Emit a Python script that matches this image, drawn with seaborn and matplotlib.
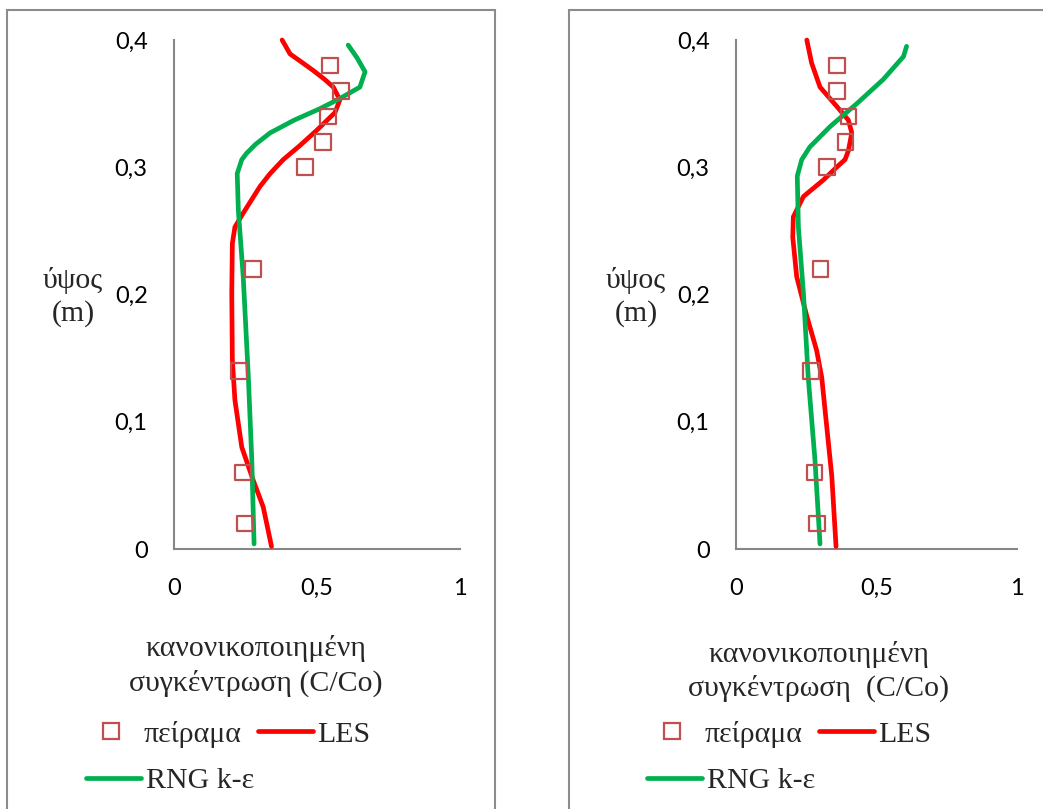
import matplotlib
matplotlib.use("Agg")
import matplotlib.pyplot as plt
import seaborn as sns
import pandas as pd
from matplotlib.lines import Line2D
from matplotlib.patches import Rectangle

# ---------------- data ----------------
exp_y = [0.38, 0.36, 0.34, 0.32, 0.30, 0.22, 0.14, 0.06, 0.02]
left_exp_x = [0.545, 0.584, 0.538, 0.521, 0.458, 0.276, 0.227, 0.241, 0.248]
right_exp_x = [0.36, 0.36, 0.40, 0.39, 0.324, 0.30, 0.267, 0.28, 0.288]

left_les_x = [0.378, 0.406, 0.450, 0.487, 0.527, 0.557, 0.580, 0.563, 0.499, 0.440,
              0.382, 0.336, 0.301, 0.242, 0.213, 0.204, 0.202, 0.204, 0.213, 0.237,
              0.277, 0.312, 0.341]
left_les_y = [0.400, 0.389, 0.382, 0.376, 0.369, 0.363, 0.353, 0.343, 0.329, 0.317,
              0.306, 0.295, 0.285, 0.264, 0.253, 0.240, 0.201, 0.149, 0.117, 0.080,
              0.054, 0.033, 0.002]

left_rng_x = [0.609, 0.640, 0.668, 0.650, 0.580, 0.510, 0.420, 0.336, 0.285, 0.254,
              0.237, 0.221, 0.225, 0.242, 0.260, 0.272, 0.280]
left_rng_y = [0.396, 0.386, 0.375, 0.363, 0.354, 0.346, 0.337, 0.327, 0.318, 0.311,
              0.306, 0.295, 0.266, 0.214, 0.135, 0.070, 0.004]

right_les_x = [0.252, 0.269, 0.299, 0.358, 0.400, 0.412, 0.400, 0.388, 0.358, 0.311,
               0.240, 0.204, 0.202, 0.216, 0.252, 0.287, 0.305, 0.323, 0.341, 0.356]
right_les_y = [0.400, 0.382, 0.363, 0.348, 0.337, 0.327, 0.313, 0.306, 0.300, 0.290,
               0.277, 0.261, 0.245, 0.214, 0.183, 0.156, 0.135, 0.096, 0.057, 0.002]

right_rng_x = [0.607, 0.596, 0.524, 0.430, 0.335, 0.263, 0.234, 0.218, 0.222, 0.240,
               0.257, 0.281, 0.299]
right_rng_y = [0.395, 0.387, 0.369, 0.350, 0.332, 0.316, 0.306, 0.293, 0.253, 0.201,
               0.135, 0.070, 0.004]

x_ticks = [0, 0.5, 1]
x_ticklabels = ["0", "0,5", "1"]
y_ticks = [0, 0.1, 0.2, 0.3, 0.4]
y_ticklabels = ["0", "0,1", "0,2", "0,3", "0,4"]

series_names = ["πείραμα", "LES", "RNG k-ε"]
xlabels = ["κανονικοποιημένη\nσυγκέντρωση (C/Co)", "κανονικοποιημένη\nσυγκέντρωση  (C/Co)"]
ylabel = "ύψος\n(m)"

# ---------------- style ----------------
sns.set_style("white")
plt.rcParams["font.family"] = ["Liberation Serif", "DejaVu Serif"]

W, H = 1043, 809
fig = plt.figure(figsize=(W / 100, H / 100), dpi=100)

def fx(px):
    return px / W

def fy(py):
    return 1 - py / H

RED = "#FF0000"
GREEN = "#00B050"
MARK = "#C0504D"
AXC = "#868686"
FS = 21.5

panels = [
    dict(ax_px=(174, 286), exp_x=left_exp_x, les=(left_les_x, left_les_y),
         rng=(left_rng_x, left_rng_y), box=(7, 495), xlabel=xlabels[0],
         xl_pos=(256, 648, 683), yl_pos=73, leg_off=0),
    dict(ax_px=(736, 281), exp_x=right_exp_x, les=(right_les_x, right_les_y),
         rng=(right_rng_x, right_rng_y), box=(569, 1060), xlabel=xlabels[1],
         xl_pos=(819, 655, 688), yl_pos=636, leg_off=561),
]

for p in panels:
    # outer chart border
    bx0, bx1 = p["box"]
    fig.patches.append(Rectangle((fx(bx0), fy(830)), fx(bx1 - bx0), (830 - 10) / H,
                                 transform=fig.transFigure, fill=False,
                                 edgecolor="#8C8C8C", lw=1.5, zorder=0))
    x0, w = p["ax_px"]
    ax = fig.add_axes([fx(x0), fy(549), fx(w), (549 - 40) / H])
    ax.set_facecolor("none")

    df_exp = pd.DataFrame({"x": p["exp_x"], "y": exp_y})
    df_les = pd.DataFrame({"x": p["les"][0], "y": p["les"][1]})
    df_rng = pd.DataFrame({"x": p["rng"][0], "y": p["rng"][1]})

    sns.lineplot(data=df_les, x="x", y="y", sort=False, estimator=None, ax=ax,
                 color=RED, lw=3.4, solid_capstyle="round", solid_joinstyle="round", zorder=3)
    sns.lineplot(data=df_rng, x="x", y="y", sort=False, estimator=None, ax=ax,
                 color=GREEN, lw=3.4, solid_capstyle="round", solid_joinstyle="round", zorder=3)
    sns.scatterplot(data=df_exp, x="x", y="y", ax=ax, marker="s", s=125,
                    facecolor="none", edgecolor=MARK, linewidth=1.6, zorder=4)

    ax.set_xlim(0, 1)
    ax.set_ylim(0, 0.4)
    ax.set_xticks(x_ticks)
    ax.set_xticklabels(x_ticklabels)
    ax.set_yticks(y_ticks)
    ax.set_yticklabels(y_ticklabels)
    ax.tick_params(length=0, labelsize=17, colors="black")
    ax.tick_params(axis="y", pad=19)
    ax.tick_params(axis="x", pad=21)
    for lab in ax.get_xticklabels() + ax.get_yticklabels():
        lab.set_family(["Lato", "DejaVu Sans"])
    ax.set_xlabel("")
    ax.set_ylabel("")
    for s in ["top", "right"]:
        ax.spines[s].set_visible(False)
    for s in ["left", "bottom"]:
        ax.spines[s].set_color(AXC)
        ax.spines[s].set_linewidth(1.5)
    for art in ax.lines + ax.collections:
        art.set_clip_on(False)

    # axis titles
    cx, l1, l2 = p["xl_pos"]
    lines = p["xlabel"].split("\n")
    fig.text(fx(cx), fy(l1), lines[0], ha="center", va="center", fontsize=FS)
    fig.text(fx(cx), fy(l2), lines[1], ha="center", va="center", fontsize=FS)
    ylines = ylabel.split("\n")
    fig.text(fx(p["yl_pos"]), fy(281), ylines[0], ha="center", va="center", fontsize=FS)
    fig.text(fx(p["yl_pos"]), fy(314), ylines[1], ha="center", va="center", fontsize=FS)

    # legend
    off = p["leg_off"]
    h_exp = Line2D([], [], ls="none", marker="s", ms=11, mfc="none", mec=MARK, mew=1.6)
    h_les = Line2D([], [], color=RED, lw=3.4, solid_capstyle="round")
    h_rng = Line2D([], [], color=GREEN, lw=3.4, solid_capstyle="round")
    fig.legend([h_exp, h_les], series_names[:2], ncol=2, frameon=False,
               loc="center", bbox_to_anchor=(fx(227 + off), fy(734)),
               fontsize=FS, handlelength=1.85, handletextpad=0.15,
               columnspacing=0.55, borderpad=0, borderaxespad=0)
    fig.legend([h_rng], series_names[2:], frameon=False,
               loc="center", bbox_to_anchor=(fx(170 + off), fy(781)),
               fontsize=FS, handlelength=1.85, handletextpad=0.15,
               borderpad=0, borderaxespad=0)

fig.savefig("out.png", dpi=100)
